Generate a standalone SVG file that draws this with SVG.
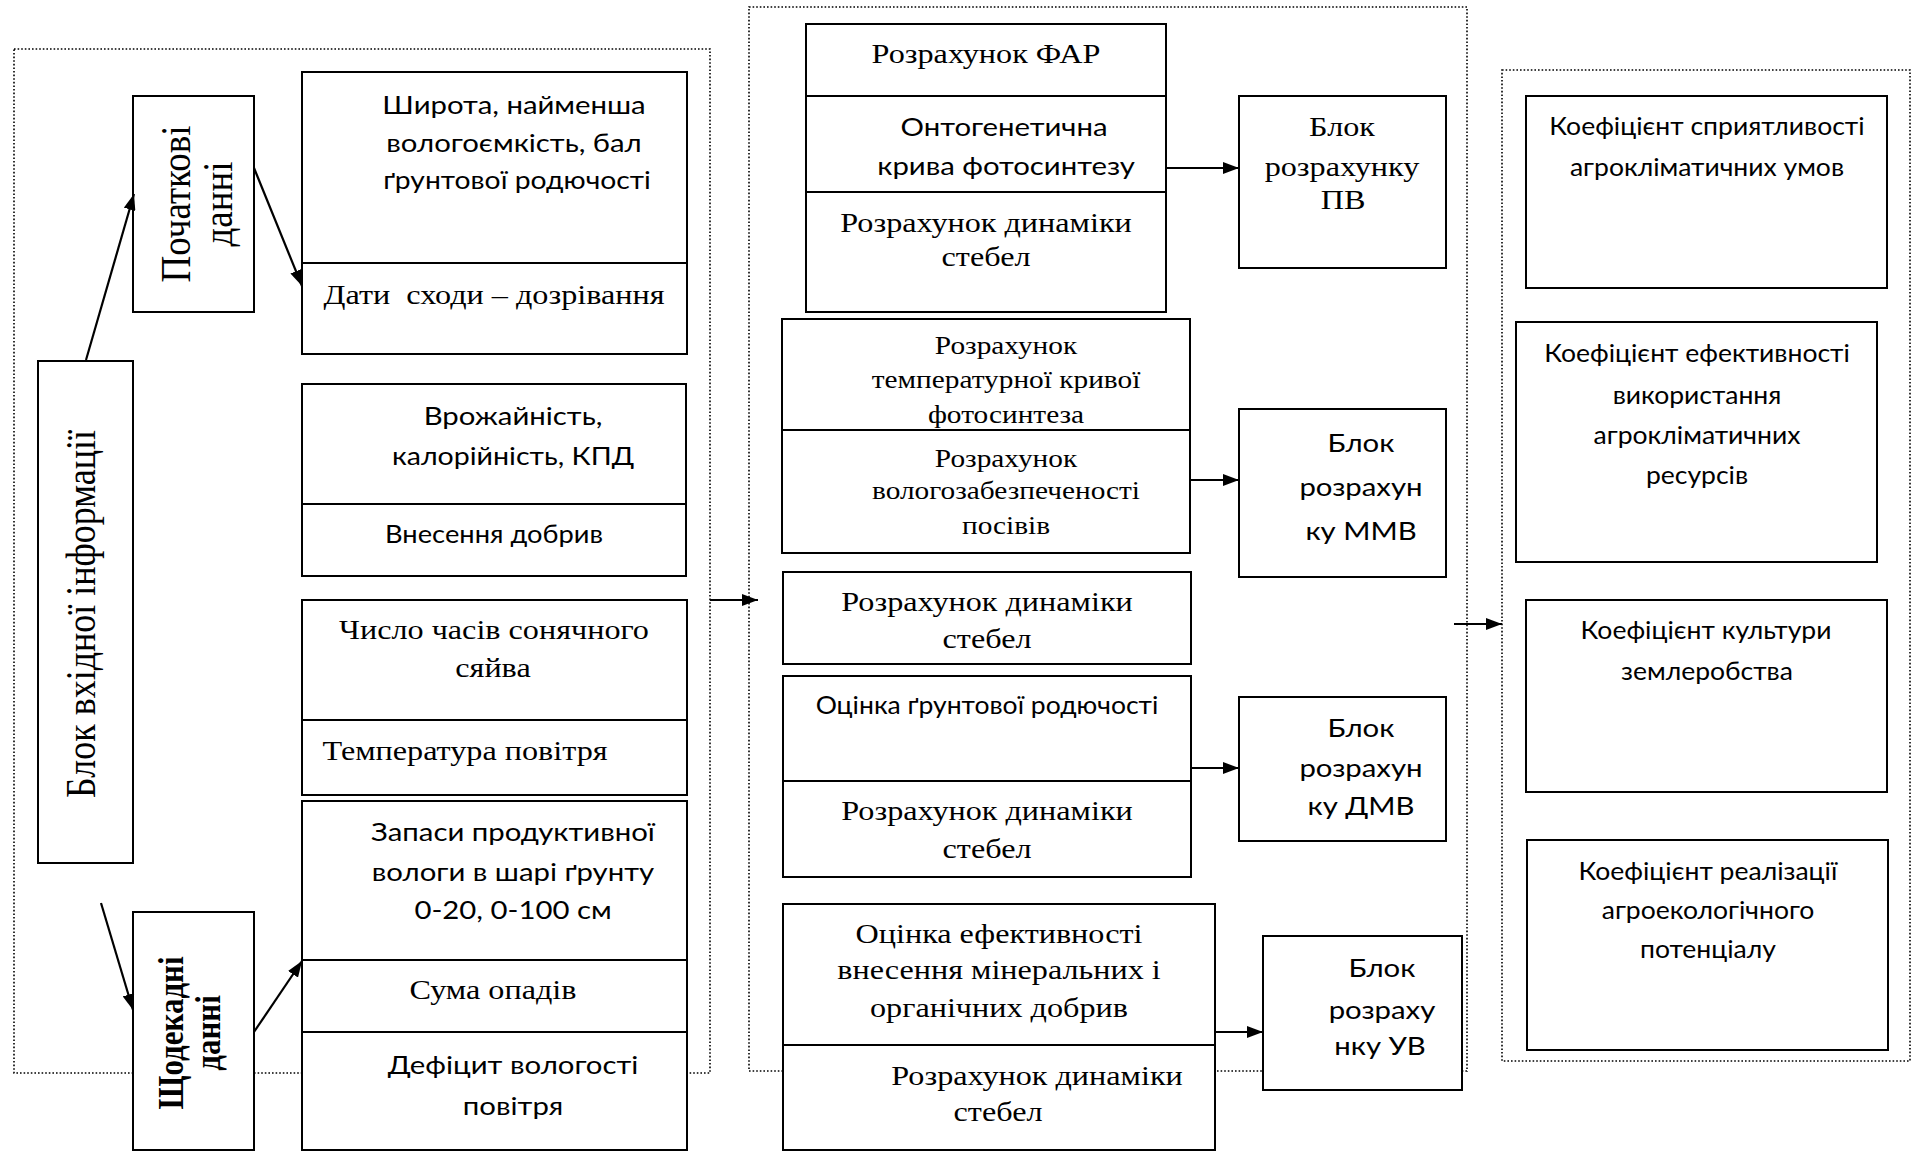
<svg xmlns="http://www.w3.org/2000/svg" width="1919" height="1152" viewBox="0 0 1919 1152">
<defs>
<marker id="ah" markerUnits="userSpaceOnUse" markerWidth="16" markerHeight="12" refX="16" refY="6" orient="auto"><path d="M0,0 L16,6 L0,12 z" fill="#000"/></marker>
</defs>
<style>
.bx{fill:#fff;stroke:#000;stroke-width:2}
.dv{stroke:#000;stroke-width:2;fill:none}
.dot{fill:none;stroke:#000;stroke-width:1.6;stroke-dasharray:1.6 2}
.cn{stroke:#000;stroke-width:2.2;fill:none;marker-end:url(#ah)}
.sr{font-family:"Liberation Serif","Times New Roman",serif;font-size:28px;text-anchor:middle;fill:#000}
.sm{font-family:"Liberation Serif","Times New Roman",serif;font-size:25.5px;text-anchor:middle;fill:#000}
.sn{font-family:Lato,"Liberation Sans",sans-serif;font-size:25.5px;text-anchor:middle;fill:#000}
.rv{font-family:"Liberation Serif","Times New Roman",serif;text-anchor:middle;fill:#000}
</style>
<rect width="1919" height="1152" fill="#fff"/>
<g id="groups">
<rect id="grp-input" class="dot" x="14" y="49" width="696" height="1024"/>
<rect id="grp-calc" class="dot" x="749" y="7" width="718" height="1064"/>
<rect id="grp-out" class="dot" x="1502" y="70" width="408" height="991"/>
</g>
<g id="n-input">
<rect class="bx" x="38" y="361" width="95" height="502"/>
<text class="rv" font-size="36" transform="translate(95 614) scale(1.15 1) rotate(-90)">Блок вхідної інформації</text>
</g>
<g id="n-initial">
<rect class="bx" x="133" y="96" width="121" height="216"/>
<text class="rv" font-size="37" transform="translate(190 204) scale(1.15 1) rotate(-90)">Початкові</text>
<text class="rv" font-size="37" transform="translate(232 204) scale(1.15 1) rotate(-90)">данні</text>
</g>
<g id="n-decade">
<rect class="bx" x="133" y="912" width="121" height="238"/>
<text class="rv" font-size="31" font-weight="bold" transform="translate(183 1033) scale(1.15 1) rotate(-90)">Щодекадні</text>
<text class="rv" font-size="31" font-weight="bold" transform="translate(220 1033) scale(1.15 1) rotate(-90)">данні</text>
</g>
<g id="n-lat">
<rect class="bx" x="302" y="72" width="385" height="282"/>
<line class="dv" x1="302" y1="263" x2="687" y2="263"/>
<text class="sn" transform="translate(514 114) scale(1.15 1)">Широта, найменша</text>
<text class="sn" transform="translate(514 152) scale(1.15 1)">вологоємкість, бал</text>
<text class="sn" transform="translate(517 189) scale(1.11 1)">ґрунтової родючості</text>
<text class="sr" xml:space="preserve" transform="translate(494 304) scale(1.15 1)">Дати  сходи – дозрівання</text>
</g>
<g id="n-yield">
<rect class="bx" x="302" y="384" width="384" height="192"/>
<line class="dv" x1="302" y1="504" x2="686" y2="504"/>
<text class="sn" transform="translate(513 425) scale(1.15 1)">Врожайність,</text>
<text class="sn" transform="translate(513 465) scale(1.12 1)">калорійність, КПД</text>
<text class="sn" transform="translate(494 543) scale(1.07 1)">Внесення добрив</text>
</g>
<g id="n-sun">
<rect class="bx" x="302" y="600" width="385" height="195"/>
<line class="dv" x1="302" y1="720" x2="687" y2="720"/>
<text class="sr" transform="translate(494 639) scale(1.15 1)">Число часів сонячного</text>
<text class="sr" transform="translate(493 677) scale(1.15 1)">сяйва</text>
<text class="sr" transform="translate(465 760) scale(1.15 1)">Температура повітря</text>
</g>
<g id="n-moist">
<rect class="bx" x="302" y="801" width="385" height="349"/>
<line class="dv" x1="302" y1="960" x2="687" y2="960"/>
<line class="dv" x1="302" y1="1032" x2="687" y2="1032"/>
<text class="sn" transform="translate(513 841) scale(1.15 1)">Запаси продуктивної</text>
<text class="sn" transform="translate(513 881) scale(1.15 1)">вологи в шарі ґрунту</text>
<text class="sn" transform="translate(513 919) scale(1.15 1)">0-20, 0-100 см</text>
<text class="sr" transform="translate(493 999) scale(1.15 1)">Сума опадів</text>
<text class="sn" transform="translate(513 1074) scale(1.15 1)">Дефіцит вологості</text>
<text class="sn" transform="translate(513 1115) scale(1.15 1)">повітря</text>
</g>
<g id="n-far">
<rect class="bx" x="806" y="24" width="360" height="288"/>
<line class="dv" x1="806" y1="96" x2="1166" y2="96"/>
<line class="dv" x1="806" y1="192" x2="1166" y2="192"/>
<text class="sr" transform="translate(986 63) scale(1.15 1)">Розрахунок ФАР</text>
<text class="sn" transform="translate(1004 136) scale(1.15 1)">Онтогенетична</text>
<text class="sn" transform="translate(1006 175) scale(1.15 1)">крива фотосинтезу</text>
<text class="sr" transform="translate(986 232) scale(1.15 1)">Розрахунок динаміки</text>
<text class="sr" transform="translate(986 266) scale(1.15 1)">стебел</text>
</g>
<g id="n-pv">
<rect class="bx" x="1239" y="96" width="207" height="172"/>
<text class="sr" transform="translate(1342 136) scale(1.15 1)">Блок</text>
<text class="sr" transform="translate(1342 176) scale(1.15 1)">розрахунку</text>
<text class="sr" transform="translate(1343 209) scale(1.15 1)">ПВ</text>
</g>
<g id="n-temp">
<rect class="bx" x="782" y="319" width="408" height="234"/>
<line class="dv" x1="782" y1="430" x2="1190" y2="430"/>
<text class="sm" transform="translate(1006 354) scale(1.15 1)">Розрахунок</text>
<text class="sm" transform="translate(1006 388) scale(1.15 1)">температурної кривої</text>
<text class="sm" transform="translate(1006 423) scale(1.15 1)">фотосинтеза</text>
<text class="sm" transform="translate(1006 467) scale(1.15 1)">Розрахунок</text>
<text class="sm" transform="translate(1006 499) scale(1.15 1)">вологозабезпеченості</text>
<text class="sm" transform="translate(1006 534) scale(1.15 1)">посівів</text>
</g>
<g id="n-mmv">
<rect class="bx" x="1239" y="409" width="207" height="168"/>
<text class="sn" transform="translate(1361 452) scale(1.15 1)">Блок</text>
<text class="sn" transform="translate(1361 496) scale(1.15 1)">розрахун</text>
<text class="sn" transform="translate(1361 540) scale(1.15 1)">ку ММВ</text>
</g>
<g id="n-stem">
<rect class="bx" x="783" y="572" width="408" height="92"/>
<text class="sr" transform="translate(987 611) scale(1.15 1)">Розрахунок динаміки</text>
<text class="sr" transform="translate(987 648) scale(1.15 1)">стебел</text>
</g>
<g id="n-soil">
<rect class="bx" x="783" y="676" width="408" height="201"/>
<line class="dv" x1="783" y1="781" x2="1191" y2="781"/>
<text class="sn" transform="translate(987 714) scale(1.04 1)">Оцінка ґрунтової родючості</text>
<text class="sr" transform="translate(987 820) scale(1.15 1)">Розрахунок динаміки</text>
<text class="sr" transform="translate(987 858) scale(1.15 1)">стебел</text>
</g>
<g id="n-dmv">
<rect class="bx" x="1239" y="697" width="207" height="144"/>
<text class="sn" transform="translate(1361 737) scale(1.15 1)">Блок</text>
<text class="sn" transform="translate(1361 777) scale(1.15 1)">розрахун</text>
<text class="sn" transform="translate(1361 815) scale(1.15 1)">ку ДМВ</text>
</g>
<g id="n-fert">
<rect class="bx" x="783" y="904" width="432" height="246"/>
<line class="dv" x1="783" y1="1045" x2="1215" y2="1045"/>
<text class="sr" transform="translate(999 943) scale(1.15 1)">Оцінка ефективності</text>
<text class="sr" transform="translate(999 979) scale(1.15 1)">внесення мінеральних і</text>
<text class="sr" transform="translate(999 1017) scale(1.15 1)">органічних добрив</text>
<text class="sr" transform="translate(1037 1085) scale(1.15 1)">Розрахунок динаміки</text>
<text class="sr" transform="translate(998 1121) scale(1.15 1)">стебел</text>
</g>
<g id="n-uv">
<rect class="bx" x="1263" y="936" width="199" height="154"/>
<text class="sn" transform="translate(1382 977) scale(1.15 1)">Блок</text>
<text class="sn" transform="translate(1382 1019) scale(1.15 1)">розраху</text>
<text class="sn" transform="translate(1380 1055) scale(1.15 1)">нку УВ</text>
</g>
<g id="n-k1">
<rect class="bx" x="1526" y="96" width="361" height="192"/>
<text class="sn" transform="translate(1707 135) scale(1.04 1)">Коефіцієнт сприятливості</text>
<text class="sn" transform="translate(1707 176) scale(1.04 1)">агрокліматичних умов</text>
</g>
<g id="n-k2">
<rect class="bx" x="1516" y="322" width="361" height="240"/>
<text class="sn" transform="translate(1697 362) scale(1.04 1)">Коефіцієнт ефективності</text>
<text class="sn" transform="translate(1697 404) scale(1.04 1)">використання</text>
<text class="sn" transform="translate(1697 444) scale(1.04 1)">агрокліматичних</text>
<text class="sn" transform="translate(1697 484) scale(1.04 1)">ресурсів</text>
</g>
<g id="n-k3">
<rect class="bx" x="1526" y="600" width="361" height="192"/>
<text class="sn" transform="translate(1706 639) scale(1.04 1)">Коефіцієнт культури</text>
<text class="sn" transform="translate(1707 680) scale(1.04 1)">землеробства</text>
</g>
<g id="n-k4">
<rect class="bx" x="1527" y="840" width="361" height="210"/>
<text class="sn" transform="translate(1708 880) scale(1.04 1)">Коефіцієнт реалізації</text>
<text class="sn" transform="translate(1708 919) scale(1.04 1)">агроекологічного</text>
<text class="sn" transform="translate(1708 958) scale(1.04 1)">потенціалу</text>
</g>
<g id="connectors">
<path class="cn" d="M86,360 L134,194"/>
<path class="cn" d="M254,168 L302,286"/>
<path class="cn" d="M101,903 L133,1010"/>
<path class="cn" d="M254,1032 L302,961"/>
<path class="cn" d="M710,600 L758,600"/>
<path class="cn" d="M1166,168 L1239,168"/>
<path class="cn" d="M1190,480 L1239,480"/>
<path class="cn" d="M1191,768 L1239,768"/>
<path class="cn" d="M1215,1032 L1263,1032"/>
<path class="cn" d="M1454,624 L1502,624"/>
</g>
</svg>
